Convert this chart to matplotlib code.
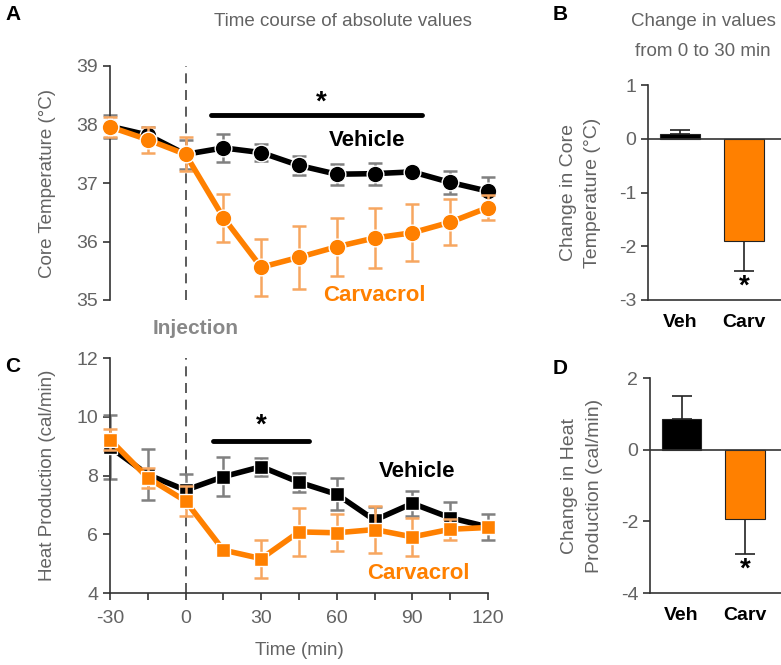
import matplotlib
matplotlib.use("Agg")
import matplotlib.pyplot as plt
import numpy as np

plt.rcParams['font.family'] = ['Liberation Sans', 'DejaVu Sans']
plt.rcParams['axes.unicode_minus'] = False

# time course data
time = [-30, -15, 0, 15, 30, 45, 60, 75, 90, 105, 120]

temp_veh = [37.97, 37.82, 37.49, 37.60, 37.52, 37.30, 37.15, 37.16, 37.19, 37.01, 36.86]
temp_veh_se = [0.20, 0.13, 0.25, 0.24, 0.15, 0.17, 0.18, 0.19, 0.05, 0.20, 0.25]
temp_carv = [37.96, 37.74, 37.49, 36.41, 35.56, 35.73, 35.91, 36.06, 36.15, 36.33, 36.58]
temp_carv_se = [0.17, 0.22, 0.29, 0.41, 0.49, 0.54, 0.50, 0.51, 0.49, 0.39, 0.22]

heat_veh = [8.97, 8.03, 7.50, 7.96, 8.30, 7.77, 7.36, 6.48, 7.05, 6.56, 6.25]
heat_veh_se = [1.08, 0.87, 0.54, 0.66, 0.30, 0.33, 0.54, 0.45, 0.43, 0.53, 0.45]
heat_carv = [9.22, 7.92, 7.13, 5.46, 5.17, 6.08, 6.05, 6.16, 5.91, 6.17, 6.23]
heat_carv_se = [0.35, 0.35, 0.50, 0.08, 0.65, 0.82, 0.63, 0.80, 0.65, 0.35, 0.08]

# change from 0 to 30 min
groups = ['Veh', 'Carv']
d_temp = [0.08, -1.91]
d_temp_se = [0.09, 0.55]
d_heat = [0.86, -1.94]
d_heat_se = [0.63, 0.98]

ORANGE = '#FF8000'
ORANGE_ERR = '#F7A660'
GRAY_TXT = '#636363'
GRAY_ERR = '#808080'
AX_COL = '#333333'

fig = plt.figure(figsize=(7.81, 6.65), dpi=100)
W, H = 781.0, 665.0


def px_axes(x0, y0, x1, y1):
    return fig.add_axes([x0 / W, 1 - y1 / H, (x1 - x0) / W, (y1 - y0) / H])


def style_axes(ax):
    for s in ['top', 'right']:
        ax.spines[s].set_visible(False)
    for s in ['left', 'bottom']:
        ax.spines[s].set_color(AX_COL)
        ax.spines[s].set_linewidth(1.2)
    ax.tick_params(colors=AX_COL, labelcolor=GRAY_TXT, labelsize=14, length=5, width=1.2)


def time_panel(ax, veh, veh_se, carv, carv_se, marker, ms):
    ax.errorbar(time, veh, yerr=veh_se, fmt='none', ecolor=GRAY_ERR, elinewidth=1.8,
                capsize=5, capthick=1.8, zorder=2, clip_on=False)
    ax.plot(time, veh, color='black', lw=4, marker=marker, ms=ms, mfc='black',
            mec='white', mew=1, zorder=3, clip_on=False)
    ax.errorbar(time, carv, yerr=carv_se, fmt='none', ecolor=ORANGE_ERR, elinewidth=1.8,
                capsize=5, capthick=1.8, zorder=4, clip_on=False)
    ax.plot(time, carv, color=ORANGE, lw=4, marker=marker, ms=ms, mfc=ORANGE,
            mec='white', mew=1, zorder=5, clip_on=False)
    ax.axvline(0, color='#404040', lw=1.2, ls=(0, (6, 4)), zorder=1)
    ax.set_xlim(-30, 120)


# Panel A
axA = px_axes(110, 66, 488, 300)
style_axes(axA)
time_panel(axA, temp_veh, temp_veh_se, temp_carv, temp_carv_se, 'o', 12)
axA.set_ylim(35, 39)
axA.set_yticks([35, 36, 37, 38, 39])
axA.spines['bottom'].set_visible(False)
axA.set_xticks([])
axA.set_ylabel('Core Temperature (°C)', color=GRAY_TXT, fontsize=13.5, labelpad=15)
axA.plot([10, 94], [38.16, 38.16], color='black', lw=3.5, solid_capstyle='round')
axA.text(54, 38.38, '*', ha='center', va='center', fontsize=20, fontweight='bold')
axA.text(72, 37.73, 'Vehicle', ha='center', va='center', fontsize=16, fontweight='bold')
axA.text(75, 35.07, 'Carvacrol', ha='center', va='center', fontsize=16,
         fontweight='bold', color=ORANGE)

# Panel C
axC = px_axes(110, 358, 488, 593)
style_axes(axC)
time_panel(axC, heat_veh, heat_veh_se, heat_carv, heat_carv_se, 's', 10)
axC.set_ylim(4, 12)
axC.set_yticks([4, 6, 8, 10, 12])
axC.set_xticks([-30, 0, 30, 60, 90, 120])
axC.set_xticks(np.arange(-30, 121, 15), minor=True)
axC.tick_params(axis='x', which='minor', length=5, width=1.2, color=AX_COL)
axC.tick_params(axis='x', pad=7)
axC.set_ylabel('Heat Production (cal/min)', color=GRAY_TXT, fontsize=13.5, labelpad=15)
axC.set_xlabel('Time (min)', color=GRAY_TXT, fontsize=13.5, labelpad=11)
axC.plot([11, 49], [9.19, 9.19], color='black', lw=3.5, solid_capstyle='round')
axC.text(30, 9.7, '*', ha='center', va='center', fontsize=20, fontweight='bold')
axC.text(92, 8.13, 'Vehicle', ha='center', va='center', fontsize=16, fontweight='bold')
axC.text(92.5, 4.68, 'Carvacrol', ha='center', va='center', fontsize=16,
         fontweight='bold', color=ORANGE)


def bar_panel(ax, vals, se):
    x = np.arange(len(groups))
    ax.bar(x, vals, width=0.62, color=['black', ORANGE], edgecolor='#222222', lw=0.8, zorder=2)
    for xi, v, e in zip(x, vals, se):
        err = [[0], [e]] if v >= 0 else [[e], [0]]
        ax.errorbar([xi], [v], yerr=err, fmt='none', ecolor='#222222', elinewidth=1.2,
                    capsize=7, capthick=1.2, zorder=1)
    ax.axhline(0, color=AX_COL, lw=1.2, zorder=3)
    ax.set_xlim(-0.5, 1.57)
    ax.set_xticks(x)
    ax.set_xticklabels(groups, fontsize=14, fontweight='bold', color='black')
    ax.tick_params(axis='x', length=0, pad=10)


# Panel B
axB = px_axes(648, 85, 781, 300)
style_axes(axB)
bar_panel(axB, d_temp, d_temp_se)
axB.set_ylim(-3, 1)
axB.set_yticks([-3, -2, -1, 0, 1])
axB.set_ylabel('Change in Core\nTemperature (°C)', color=GRAY_TXT, fontsize=14,
               labelpad=13, linespacing=1.55)
axB.text(1, -2.75, '*', ha='center', va='center', fontsize=20, fontweight='bold')

# Panel D
axD = px_axes(650, 378, 781, 593)
style_axes(axD)
bar_panel(axD, d_heat, d_heat_se)
axD.set_ylim(-4, 2)
axD.set_yticks([-4, -2, 0, 2])
axD.set_ylabel('Change in Heat\nProduction (cal/min)', color=GRAY_TXT, fontsize=14,
               labelpad=13, linespacing=1.55)
axD.text(1, -3.36, '*', ha='center', va='center', fontsize=20, fontweight='bold')

# texts
fig.text(343 / W, 1 - 22 / H, 'Time course of absolute values', ha='center', va='center',
         fontsize=13.5, color=GRAY_TXT)
fig.text(703 / W, 1 - 22 / H, 'Change in values', ha='center', va='center',
         fontsize=13.5, color=GRAY_TXT)
fig.text(703 / W, 1 - 52 / H, 'from 0 to 30 min', ha='center', va='center',
         fontsize=13.5, color=GRAY_TXT)
fig.text(196 / W, 1 - 328 / H, 'Injection', ha='center', va='center', fontsize=15,
         fontweight='bold', color='#888888')
for lab, x, y in [('A', 5, 14), ('B', 553, 14), ('C', 5, 367), ('D', 553, 368)]:
    fig.text(x / W, 1 - y / H, lab, ha='left', va='center', fontsize=15, fontweight='bold')

fig.savefig('out.png', dpi=100)
